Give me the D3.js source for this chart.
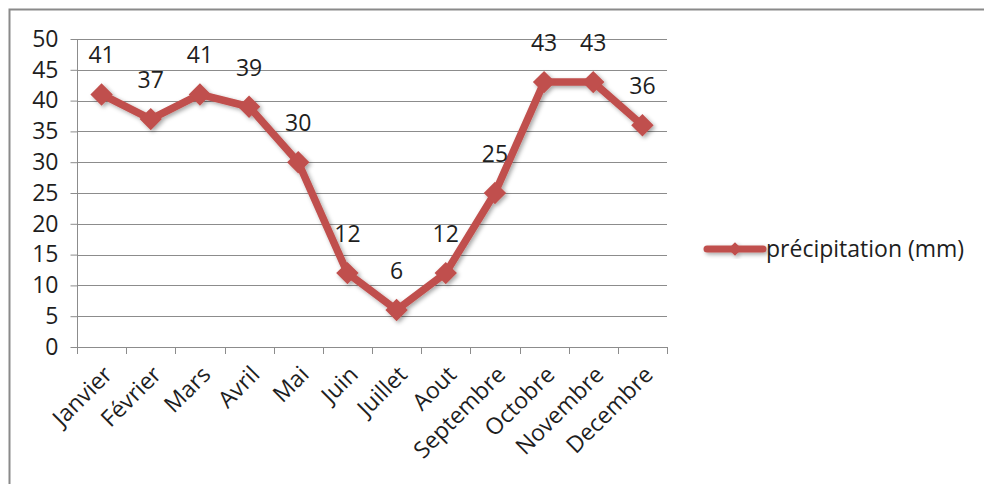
<!DOCTYPE html>
<html>
<head>
<meta charset="utf-8">
<script src="https://cdn.jsdelivr.net/npm/d3@7"></script>
<style>
  html, body { margin: 0; padding: 0; background: #fff; }
  svg { display: block; font-family: "Open Sans", Lato, sans-serif; }
</style>
</head>
<body>
<svg id="chart" width="984" height="484"></svg>
<script>
// Monthly precipitation
const months = ["Janvier", "Février", "Mars", "Avril", "Mai", "Juin", "Juillet", "Aout", "Septembre", "Octobre", "Novembre", "Decembre"];
const precipitation = [41, 37, 41, 39, 30, 12, 6, 12, 25, 43, 43, 36];
const yTicks = [0, 5, 10, 15, 20, 25, 30, 35, 40, 45, 50];
const seriesName = "précipitation (mm)";

const svg = d3.select("#chart");
const color = "#c0504d";
const textColor = "#1e1e1e";
const fontSize = 23;

// chart frame
svg.append("path")
  .attr("d", "M9.5,484 V9.5 H984")
  .attr("fill", "none")
  .attr("stroke", "#8a8a8a")
  .attr("stroke-width", 2);

const plot = { left: 77, right: 667, top: 39, bottom: 347 };

const x = d3.scaleBand().domain(months).range([plot.left, plot.right]);
const y = d3.scaleLinear().domain([0, 50]).range([plot.bottom, plot.top]);

// drop shadow for the series
const defs = svg.append("defs");
const f = defs.append("filter").attr("id", "shadow")
  .attr("x", "-20%").attr("y", "-20%").attr("width", "140%").attr("height", "140%");
f.append("feDropShadow").attr("dx", 2).attr("dy", 2).attr("stdDeviation", 2)
  .attr("flood-color", "#000").attr("flood-opacity", 0.35);

// gridlines
svg.append("g")
  .selectAll("line")
  .data(yTicks)
  .join("line")
  .attr("x1", plot.left).attr("x2", plot.right)
  .attr("y1", d => Math.round(y(d)) + 0.5).attr("y2", d => Math.round(y(d)) + 0.5)
  .attr("stroke", "#8c8c8c").attr("stroke-width", 1);

// y axis
const yAxis = svg.append("g")
  .attr("transform", `translate(${plot.left + 0.5},0)`)
  .call(d3.axisLeft(y).tickValues(yTicks).tickSize(7).tickPadding(12).tickFormat(d3.format("d")));
yAxis.select(".domain").attr("stroke", "#8c8c8c").attr("d", `M0,${plot.top}V${plot.bottom}`);
yAxis.selectAll(".tick line").attr("stroke", "#8c8c8c");
yAxis.selectAll(".tick text").attr("font-size", fontSize).attr("fill", textColor)
  .attr("font-family", "'Open Sans', sans-serif");

// x axis
const xAxis = svg.append("g")
  .attr("transform", `translate(0,${Math.round(plot.bottom) + 0.5})`)
  .call(d3.axisBottom(x).tickSize(0).tickFormat(""));
xAxis.select(".domain").attr("stroke", "#8c8c8c").attr("d", `M${plot.left},0H${plot.right}`);

// category boundary ticks
const bounds = months.map(m => x(m)).concat([plot.right]);
svg.append("g")
  .selectAll("line")
  .data(bounds)
  .join("line")
  .attr("x1", d => Math.round(d) + 0.5).attr("x2", d => Math.round(d) + 0.5)
  .attr("y1", plot.bottom).attr("y2", plot.bottom + 7)
  .attr("stroke", "#8c8c8c");

// rotated month labels
svg.append("g")
  .selectAll("text")
  .data(months)
  .join("text")
  .attr("transform", d => `translate(${x(d) + x.bandwidth() / 2 + 12},${plot.bottom + 29}) rotate(-45)`)
  .attr("text-anchor", "end")
  .attr("font-size", fontSize)
  .attr("fill", textColor)
  .text(d => d);

// series line and markers
const cx = d => x(d) + x.bandwidth() / 2;
const series = svg.append("g").attr("filter", "url(#shadow)");
series.append("path")
  .datum(months.map((m, i) => [cx(m), y(precipitation[i])]))
  .attr("d", d3.line())
  .attr("fill", "none")
  .attr("stroke", color)
  .attr("stroke-width", 7.5)
  .attr("stroke-linejoin", "round")
  .attr("stroke-linecap", "round");

const diamond = d3.symbol().type(d3.symbolDiamond2).size(320);
series.selectAll("path.mk")
  .data(precipitation)
  .join("path")
  .attr("class", "mk")
  .attr("transform", (d, i) => `translate(${cx(months[i])},${y(d)})`)
  .attr("d", diamond)
  .attr("fill", color);

// data labels
svg.append("g")
  .selectAll("text")
  .data(precipitation)
  .join("text")
  .attr("x", (d, i) => cx(months[i]))
  .attr("y", d => y(d) - 31)
  .attr("text-anchor", "middle")
  .attr("font-size", fontSize)
  .attr("fill", textColor)
  .text(d => d);

// legend
const lg = svg.append("g").attr("transform", "translate(707,249)");
const lgs = lg.append("g").attr("filter", "url(#shadow)");
lgs.append("line").attr("x1", 0).attr("x2", 56).attr("y1", 0).attr("y2", 0)
  .attr("stroke", color).attr("stroke-width", 7).attr("stroke-linecap", "round");
lgs.append("path").attr("transform", "translate(28,0)").attr("d", d3.symbol().type(d3.symbolDiamond2).size(120)).attr("fill", color);
lg.append("text").attr("x", 59).attr("y", 8).attr("font-size", fontSize).attr("fill", textColor).text(seriesName);
</script>
</body>
</html>
